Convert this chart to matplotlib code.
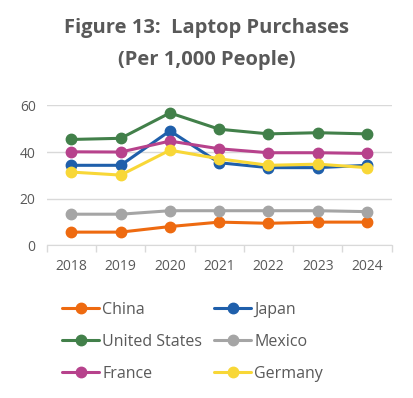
import matplotlib
matplotlib.use("Agg")
from matplotlib import pyplot as plt

# Data (per 1,000 people)
years = ["2018", "2019", "2020", "2021", "2022", "2023", "2024"]
china = [5.6, 5.6, 8.0, 9.9, 9.4, 9.9, 9.9]
japan = [34.3, 34.3, 49.1, 35.4, 33.3, 33.3, 34.3]
united_states = [45.4, 45.9, 56.8, 49.8, 47.8, 48.3, 47.8]
mexico = [13.3, 13.3, 14.8, 14.8, 14.8, 14.8, 14.4]
france = [40.1, 40.0, 44.7, 41.4, 39.7, 39.7, 39.4]
germany = [31.4, 30.1, 40.8, 37.1, 34.3, 34.8, 33.3]

series = [
    ("China", china, "#EE6A10"),
    ("Japan", japan, "#1F5FAB"),
    ("United States", united_states, "#42804A"),
    ("Mexico", mexico, "#A5A5A5"),
    ("France", france, "#B7428C"),
    ("Germany", germany, "#F8D737"),
]

plt.rcParams["font.family"] = ["Open Sans", "DejaVu Sans"]
text_col = "#595959"

fig = plt.figure(figsize=(4.14, 3.98), dpi=100)
ax = fig.add_axes([0.113, 0.384, 0.833, 0.351])

x = list(range(len(years)))
lines = {}
for name, vals, col in series:
    ln, = ax.plot(x, vals, color=col, linewidth=2.2, marker="o", markersize=7.5,
                  label=name, solid_capstyle="round")
    lines[name] = ln

ax.set_ylim(0, 60)
ax.set_yticks([0, 20, 40, 60])
ax.set_xlim(-0.5, len(years) - 0.5)
ax.set_xticks(x)
ax.set_xticklabels(years)
ax.set_xticks([i - 0.5 for i in range(len(years) + 1)], minor=True)
ax.tick_params(axis="x", which="major", length=0, pad=10, labelsize=10, labelcolor=text_col)
ax.tick_params(axis="x", which="minor", length=5, color="#D9D9D9", width=1)
ax.tick_params(axis="y", length=0, pad=8, labelsize=10, labelcolor=text_col)
ax.grid(axis="y", color="#D9D9D9", linewidth=1)
ax.set_axisbelow(True)
for s in ["top", "right", "left"]:
    ax.spines[s].set_visible(False)
ax.spines["bottom"].set_color("#D9D9D9")

fig.text(0.5, 0.930, "Figure 13:  Laptop Purchases", ha="center", va="center",
         fontsize=14.5, fontweight="bold", color=text_col)
fig.text(0.5, 0.850, "(Per 1,000 People)", ha="center", va="center",
         fontsize=14.5, fontweight="bold", color=text_col)

# row-major order like the original legend
order = ["China", "United States", "France", "Japan", "Mexico", "Germany"]
leg = fig.legend([lines[n] for n in order], order, loc="upper left",
                 bbox_to_anchor=(0.135, 0.258), ncol=2, frameon=False,
                 fontsize=11.5, handlelength=2.3, handletextpad=0.2,
                 columnspacing=0.75, labelspacing=1.0, borderaxespad=0)
for t in leg.get_texts():
    t.set_color(text_col)

fig.savefig("out.png", dpi=100)
